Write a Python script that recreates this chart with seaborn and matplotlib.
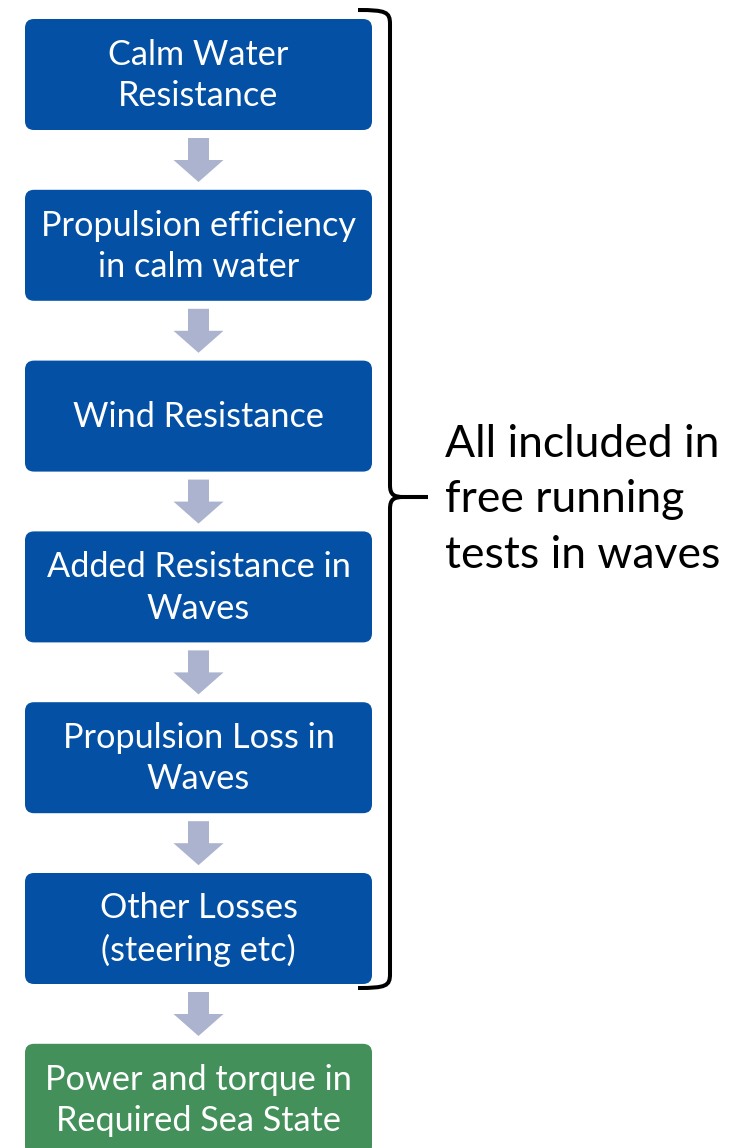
import matplotlib.pyplot as plt
import seaborn as sns
from matplotlib.patches import FancyBboxPatch, Polygon, PathPatch
from matplotlib.path import Path

# flowchart content
steps = [
    "Calm Water\nResistance",
    "Propulsion efficiency\nin calm water",
    "Wind Resistance",
    "Added Resistance in\nWaves",
    "Propulsion Loss in\nWaves",
    "Other Losses\n(steering etc)",
    "Power and torque in\nRequired Sea State",
]
step_colors = ["#0450a4"] * 6 + ["#43905a"]
bracket_note = "All included in\nfree running\ntests in waves"

sns.set_theme(style="white")
plt.rcParams["font.family"] = ["Lato", "DejaVu Sans"]

W, H = 738, 1148
fig = plt.figure(figsize=(W / 100, H / 100), dpi=100)
ax = fig.add_axes([0, 0, 1, 1])
ax.set_xlim(0, W)
ax.set_ylim(H, 0)
ax.axis("off")

box_x, box_w, box_h = 25, 347, 111
top0, step = 19, 170.8
arrow_color = "#abb3cf"

for i, (label, col) in enumerate(zip(steps, step_colors)):
    y0 = top0 + i * step
    ax.add_patch(FancyBboxPatch((box_x, y0), box_w, box_h,
                                boxstyle="round,pad=0,rounding_size=9",
                                fc=col, ec="none"))
    ax.text(box_x + box_w / 2, y0 + box_h / 2 + 1, label, ha="center", va="center",
            color="white", fontsize=24.7, linespacing=1.36)
    if i < len(steps) - 1:
        ay = y0 + box_h + 8
        cx = box_x + box_w / 2
        ax.add_patch(Polygon([(cx - 10.5, ay), (cx + 10.5, ay), (cx + 10.5, ay + 22),
                              (cx + 25, ay + 22), (cx, ay + 44), (cx - 25, ay + 22),
                              (cx - 10.5, ay + 22)], closed=True, fc=arrow_color, ec="none"))

# curly bracket on the right
bx, ytop, ybot, ymid, tip = 390, 10, 988, 497, 428
verts = [(358, ytop), (386, ytop), (bx, ytop + 2), (bx, ytop + 14),
         (bx, ymid - 12),
         (bx, ymid - 2), (394, ymid), (404, ymid),
         (tip, ymid),
         (404, ymid), (394, ymid), (bx, ymid + 2), (bx, ymid + 12),
         (bx, ybot - 14),
         (bx, ybot - 2), (386, ybot), (358, ybot)]
codes = [Path.MOVETO, Path.CURVE4, Path.CURVE4, Path.CURVE4, Path.LINETO,
         Path.CURVE4, Path.CURVE4, Path.CURVE4, Path.LINETO, Path.LINETO,
         Path.CURVE4, Path.CURVE4, Path.CURVE4, Path.LINETO,
         Path.CURVE4, Path.CURVE4, Path.CURVE4]
ax.add_patch(PathPatch(Path(verts, codes), fc="none", ec="black", lw=2.9,
                       capstyle="butt", joinstyle="miter"))

ax.text(445, 500, bracket_note, ha="left", va="center", color="black",
        fontsize=32, linespacing=1.45)

fig.savefig("out.png", dpi=100, facecolor="white")
